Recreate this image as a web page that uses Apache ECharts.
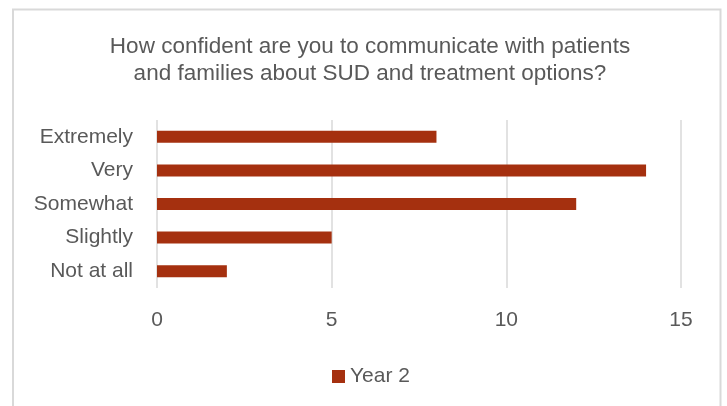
<!DOCTYPE html>
<html>
<head>
<meta charset="utf-8">
<script src="https://cdn.jsdelivr.net/npm/echarts@6/dist/echarts.min.js"></script>
<style>
html,body{margin:0;padding:0;background:#fff;}
#chart{width:727px;height:406px;}
</style>
</head>
<body>
<div id="chart"></div>
<script>
const titleText = 'How confident are you to communicate with patients\nand families about SUD and treatment options?';
const categories = ['Extremely', 'Very', 'Somewhat', 'Slightly', 'Not at all'];
const seriesName = 'Year 2';
const values = [8, 14, 12, 5, 2];
const xTicks = { min: 0, max: 15, interval: 5 };

const FONT = '"Liberation Sans", Arial, sans-serif';
const TEXT = '#595959';
const chart = echarts.init(document.getElementById('chart'), null, { renderer: 'canvas' });
chart.setOption({
  animation: false,
  backgroundColor: '#fff',
  textStyle: { fontFamily: FONT, color: TEXT },
  title: {
    text: titleText,
    left: 365,
    textAlign: 'center',
    top: 28,
    textStyle: { fontFamily: FONT, fontSize: 22.5, fontWeight: 'normal', color: TEXT, lineHeight: 27 }
  },
  graphic: [{
    type: 'rect',
    shape: { x: 13, y: 9.5, width: 707.5, height: 500 },
    style: { fill: 'none', stroke: '#d9d9d9', lineWidth: 2 },
    silent: true, z: -1
  }],
  legend: {
    data: [seriesName],
    left: 327,
    top: 361,
    itemWidth: 13,
    itemHeight: 13,
    itemGap: 6,
    icon: 'rect',
    textStyle: { fontFamily: FONT, fontSize: 21, color: TEXT }
  },
  grid: { left: 157, right: 46, top: 120, bottom: 118, containLabel: false },
  xAxis: {
    type: 'value',
    min: xTicks.min, max: xTicks.max, interval: xTicks.interval,
    axisLine: { show: false },
    axisTick: { show: false },
    splitLine: { show: true, lineStyle: { color: '#d9d9d9', width: 1.5 } },
    axisLabel: { fontFamily: FONT, fontSize: 21, color: TEXT, margin: 22 }
  },
  yAxis: {
    type: 'category',
    data: categories,
    inverse: true,
    axisLine: { show: false },
    axisTick: { show: false },
    splitLine: { show: false },
    axisLabel: { fontFamily: FONT, fontSize: 21, color: TEXT, margin: 24 }
  },
  series: [{
    name: seriesName,
    type: 'bar',
    data: values,
    barWidth: 12,
    itemStyle: { color: '#a5300f' }
  }]
});
</script>
</body>
</html>
